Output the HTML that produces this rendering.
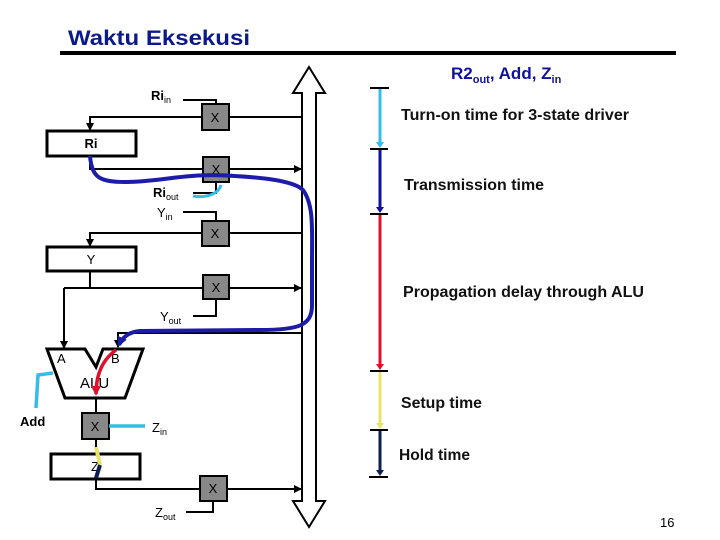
<!DOCTYPE html>
<html><head><meta charset="utf-8"><style>
body{margin:0;background:#fff;width:720px;height:540px;overflow:hidden}
svg{display:block}
text{font-family:"Liberation Sans",sans-serif}
</style></head><body>
<svg width="720" height="540" viewBox="0 0 720 540">
<defs>
<marker id="a" markerWidth="8" markerHeight="8" refX="7" refY="4" orient="auto" markerUnits="userSpaceOnUse"><path d="M0,0 L8,4 L0,8 z" fill="#000"/></marker>
<marker id="ab" markerWidth="10" markerHeight="10" refX="8" refY="5" orient="auto" markerUnits="userSpaceOnUse"><path d="M0,0 L10,5 L0,10 z" fill="#1c1ca8"/></marker>
<marker id="ar" markerWidth="10" markerHeight="10" refX="8" refY="5" orient="auto" markerUnits="userSpaceOnUse"><path d="M0,0 L10,5 L0,10 z" fill="#e0102c"/></marker>
</defs>
<text x="68" y="45" font-size="21" font-weight="bold" fill="#0b1a8a" textLength="182" lengthAdjust="spacingAndGlyphs">Waktu Eksekusi</text>
<rect x="60" y="51" width="616" height="4" fill="#000"/>
<text x="451" y="79" font-size="17" font-weight="bold" fill="#1010a0">R2<tspan font-size="11" dy="4">out</tspan><tspan dy="-4">, Add, Z</tspan><tspan font-size="11" dy="4">in</tspan></text>
<path d="M302,501 L302,93 L293,93 L309,67 L325,93 L316,93 L316,501 L325,501 L309,527 L293,501 L302,501 z" fill="#fff" stroke="#000" stroke-width="2"/>
<g stroke="#000" stroke-width="2" fill="none">
<path d="M183,100 H216 V104"/>
<path d="M202,117 H90 V130" marker-end="url(#a)"/>
<path d="M229,117 H302"/>
<path d="M90,156 V169 H301" marker-end="url(#a)"/>
<path d="M193,193 H216 V182"/>
<path d="M183,212 H216 V221"/>
<path d="M202,233 H90 V246" marker-end="url(#a)"/>
<path d="M229,233 H302"/>
<path d="M90,271 V288"/>
<path d="M64,288 H301" marker-end="url(#a)"/>
<path d="M64,288 V348" marker-end="url(#a)"/>
<path d="M193,316 H216 V299"/>
<path d="M302,333 H118 V347" marker-end="url(#a)"/>
<path d="M96,398 V413"/>
<path d="M96,439 V453"/>
<path d="M96,479 V489 H301" marker-end="url(#a)"/>
<path d="M186,512 H213 V501"/>
</g>
<g stroke="#000" stroke-width="3" fill="#fff">
<rect x="47" y="131" width="89" height="25"/>
<rect x="47" y="247" width="89" height="24"/>
<rect x="51" y="454" width="89" height="25"/>
<path d="M47,349 L85,349 L96,367 L103,349 L143,349 L125,398 L65,398 z"/>
</g>
<g stroke="#000" stroke-width="2" fill="#888">
<rect x="202" y="104" width="27" height="26"/>
<rect x="203" y="157" width="26" height="25"/>
<rect x="202" y="221" width="27" height="25"/>
<rect x="203" y="275" width="26" height="24"/>
<rect x="82" y="413" width="27" height="26"/>
<rect x="200" y="476" width="27" height="25"/>
</g>
<g font-size="13" text-anchor="middle">
<text x="215" y="122">X</text><text x="216" y="174">X</text><text x="215" y="238">X</text>
<text x="216" y="292">X</text><text x="95" y="431">X</text><text x="213" y="493">X</text>
<text x="91" y="148" font-weight="bold">Ri</text><text x="91" y="264">Y</text><text x="95" y="471">Z</text>
</g>
<g font-size="13">
<text x="151" y="100" font-weight="bold">Ri<tspan font-size="9" dy="3" font-weight="normal">in</tspan></text>
<text x="153" y="197" font-weight="bold">Ri<tspan font-size="9" dy="3" font-weight="normal">out</tspan></text>
<text x="157" y="217">Y<tspan font-size="9" dy="3">in</tspan></text>
<text x="160" y="321">Y<tspan font-size="9" dy="3">out</tspan></text>
<text x="152" y="432">Z<tspan font-size="9" dy="3">in</tspan></text>
<text x="155" y="517">Z<tspan font-size="9" dy="3">out</tspan></text>
<text x="57" y="363">A</text><text x="111" y="363">B</text>
<text x="80" y="388" font-size="15">ALU</text>
<text x="20" y="426" font-weight="bold">Add</text>
</g>
<path d="M90,156 C92,178 100,182 125,182 C160,182 190,172 235,176 C270,178 295,182 303,190 C314,205 312,230 312,260 L312,305 C312,325 300,330 260,330 L140,331 C128,332 122,338 119,345" fill="none" stroke="#1c1ca8" stroke-width="4" marker-end="url(#ab)"/>
<path d="M193,196 C205,198 218,195 221,185" fill="none" stroke="#33bde8" stroke-width="3"/>
<path d="M116,350 C102,360 96,375 96,394" fill="none" stroke="#e0102c" stroke-width="3.5" marker-end="url(#ar)"/>
<path d="M53,373 L38,375 L36,408" fill="none" stroke="#33bde8" stroke-width="3.5"/>
<path d="M109,426 H145" stroke="#33bde8" stroke-width="3.5"/>
<path d="M96,447 L100,465" stroke="#e8e46a" stroke-width="4"/>
<path d="M100,465 L96,478" stroke="#0e1e50" stroke-width="4"/>
<g stroke-width="3">
<path d="M380,88 V146" stroke="#33bde8"/>
<path d="M380,149 V211" stroke="#1010a0"/>
<path d="M380,214 V368" stroke="#e0102c"/>
<path d="M380,371 V427" stroke="#e8e46a"/>
<path d="M380,430 V474" stroke="#0e1e50"/>
</g>
<path d="M376,142 L380,148 L384,142" fill="#33bde8"/>
<path d="M376,207 L380,213 L384,207" fill="#1010a0"/>
<path d="M376,364 L380,370 L384,364" fill="#e0102c"/>
<path d="M376,423 L380,429 L384,423" fill="#e8e46a"/>
<path d="M376,470 L380,476 L384,470" fill="#0e1e50"/>
<g stroke="#000" stroke-width="2">
<path d="M370,88 H389M370,149 H388M370,214 H388M370,371 H388M370,430 H388M369,477 H388"/>
</g>
<g font-size="16" font-weight="bold" fill="#111">
<text x="401" y="120" textLength="228" lengthAdjust="spacingAndGlyphs">Turn-on time for 3-state driver</text>
<text x="404" y="190" textLength="140" lengthAdjust="spacingAndGlyphs">Transmission time</text>
<text x="403" y="297" textLength="241" lengthAdjust="spacingAndGlyphs">Propagation delay through ALU</text>
<text x="401" y="408" textLength="81" lengthAdjust="spacingAndGlyphs">Setup time</text>
<text x="399" y="460" textLength="71" lengthAdjust="spacingAndGlyphs">Hold time</text>
</g>
<text x="660" y="527" font-size="13" font-family="Liberation Serif,serif">16</text>
</svg>
</body></html>
